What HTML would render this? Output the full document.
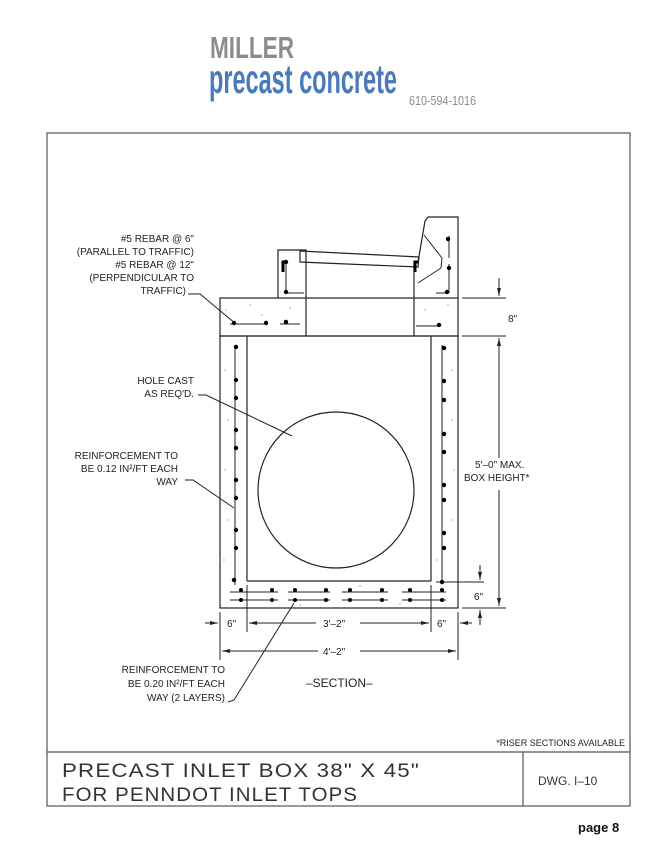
<!DOCTYPE html>
<html><head><meta charset="utf-8"><style>
html,body{margin:0;padding:0;background:#fff;}
svg{display:block;}
text{font-family:"Liberation Sans",sans-serif;}
</style></head><body>
<svg width="669" height="865" viewBox="0 0 669 865" xmlns="http://www.w3.org/2000/svg">
<!-- logo -->
<text x="210" y="58" font-size="31" font-weight="bold" fill="#8a8c8e" textLength="84" lengthAdjust="spacingAndGlyphs">MILLER</text>
<text x="209" y="93" font-size="41" font-weight="bold" fill="#4a79bd" textLength="188" lengthAdjust="spacingAndGlyphs">precast concrete</text>
<text x="409" y="105" font-size="13" fill="#8a8c8e" textLength="67" lengthAdjust="spacingAndGlyphs">610-594-1016</text>

<g stroke="#555" fill="none" stroke-width="1.2">
<rect x="47" y="133" width="583" height="673"/>
<line x1="47" y1="752" x2="630" y2="752"/>
<line x1="523" y1="752" x2="523" y2="806"/>
</g>

<g stroke="#222" fill="none" stroke-width="1.2">
<rect x="220" y="298" width="238" height="38"/>
<line x1="306" y1="298" x2="306" y2="336"/>
<line x1="414" y1="298" x2="414" y2="336"/>
<rect x="220" y="336" width="238" height="272"/>
<line x1="247" y1="336" x2="247" y2="581"/>
<line x1="431" y1="336" x2="431" y2="581"/>
<line x1="247" y1="581" x2="431" y2="581"/>
<polyline points="306,298 306,250 278,250 278,298"/>
<polygon points="300,251 419,257 418,267 300,262"/>
<polyline points="414,298 414,262 418,262 425,221 428,217 458,217 458,298"/>
<circle cx="336" cy="490" r="78"/>
</g>
<path d="M287 262h-4v10M418 262h-3v10" stroke="#000" stroke-width="3" fill="none"/>

<g stroke="#222" stroke-width="1">
<line x1="286" y1="264" x2="286" y2="293"/><line x1="286" y1="293" x2="304" y2="293"/>
<line x1="449" y1="236" x2="449" y2="258"/><line x1="449" y1="264" x2="449" y2="293"/><line x1="436" y1="293" x2="449" y2="293"/>
<line x1="230" y1="324" x2="268" y2="324"/><line x1="280" y1="324" x2="300" y2="324"/><line x1="416" y1="326" x2="440" y2="326"/>
<line x1="235" y1="345" x2="235" y2="585"/><line x1="442" y1="345" x2="442" y2="580"/>
<line x1="436" y1="582" x2="484" y2="582"/>
<line x1="424" y1="235" x2="442" y2="258"/><line x1="442" y1="258" x2="441" y2="268"/><line x1="441" y1="268" x2="418" y2="283"/>
<line x1="230" y1="592" x2="278" y2="592"/><line x1="230" y1="600" x2="278" y2="600"/>
<line x1="288" y1="592" x2="330" y2="592"/><line x1="288" y1="600" x2="330" y2="600"/>
<line x1="342" y1="592" x2="388" y2="592"/><line x1="342" y1="600" x2="388" y2="600"/>
<line x1="402" y1="592" x2="446" y2="592"/><line x1="402" y1="600" x2="446" y2="600"/>
</g>
<g fill="#000">
<circle cx="286" cy="262" r="2.2"/><circle cx="286" cy="292" r="2.2"/><circle cx="448" cy="239" r="2.2"/><circle cx="449" cy="268" r="2.2"/><circle cx="447" cy="292" r="2.2"/>
<circle cx="234" cy="323" r="2.2"/><circle cx="266" cy="323" r="2.2"/><circle cx="286" cy="322" r="2.2"/><circle cx="439" cy="325" r="2.2"/>
<circle cx="236" cy="347" r="2.2"/><circle cx="236" cy="380" r="2.2"/><circle cx="236" cy="398" r="2.2"/><circle cx="236" cy="430" r="2.2"/><circle cx="236" cy="448" r="2.2"/><circle cx="236" cy="480" r="2.2"/><circle cx="236" cy="498" r="2.2"/><circle cx="236" cy="530" r="2.2"/><circle cx="236" cy="548" r="2.2"/><circle cx="234" cy="580" r="2.2"/>
<circle cx="444" cy="348" r="2.2"/><circle cx="444" cy="381" r="2.2"/><circle cx="444" cy="400" r="2.2"/><circle cx="444" cy="434" r="2.2"/><circle cx="444" cy="452" r="2.2"/><circle cx="444" cy="485" r="2.2"/><circle cx="444" cy="500" r="2.2"/><circle cx="444" cy="533" r="2.2"/><circle cx="444" cy="548" r="2.2"/><circle cx="442" cy="582" r="2.2"/>
<circle cx="241" cy="590" r="2"/><circle cx="272" cy="590" r="2"/><circle cx="241" cy="600" r="2"/><circle cx="272" cy="600" r="2"/>
<circle cx="295" cy="590" r="2"/><circle cx="326" cy="590" r="2"/><circle cx="295" cy="600" r="2"/><circle cx="326" cy="600" r="2"/>
<circle cx="350" cy="590" r="2"/><circle cx="382" cy="590" r="2"/><circle cx="350" cy="600" r="2"/><circle cx="382" cy="600" r="2"/>
<circle cx="410" cy="590" r="2"/><circle cx="442" cy="590" r="2"/><circle cx="410" cy="600" r="2"/><circle cx="442" cy="600" r="2"/>
</g>
<g fill="#777">
<circle cx="226" cy="310" r=".6"/><circle cx="250" cy="305" r=".6"/><circle cx="262" cy="315" r=".6"/><circle cx="290" cy="308" r=".6"/><circle cx="425" cy="310" r=".6"/><circle cx="448" cy="305" r=".6"/>
<circle cx="225" cy="370" r=".6"/><circle cx="228" cy="420" r=".6"/><circle cx="225" cy="470" r=".6"/><circle cx="228" cy="520" r=".6"/><circle cx="224" cy="560" r=".6"/>
<circle cx="452" cy="370" r=".6"/><circle cx="452" cy="420" r=".6"/><circle cx="454" cy="470" r=".6"/><circle cx="452" cy="520" r=".6"/><circle cx="437" cy="560" r=".6"/>
<circle cx="300" cy="605" r=".6"/><circle cx="360" cy="586" r=".6"/><circle cx="400" cy="604" r=".6"/>
</g>

<g stroke="#222" stroke-width="1" fill="none">
<line x1="462" y1="298" x2="506" y2="298"/>
<line x1="462" y1="336" x2="506" y2="336"/>
<line x1="462" y1="608" x2="506" y2="608"/>
<line x1="499" y1="278" x2="499" y2="296"/>
<line x1="499" y1="338" x2="499" y2="458"/><line x1="499" y1="490" x2="499" y2="606"/>
<line x1="480" y1="565" x2="480" y2="580"/><line x1="480" y1="610" x2="480" y2="625"/>
<line x1="220" y1="612" x2="220" y2="660"/><line x1="247" y1="585" x2="247" y2="632"/><line x1="431" y1="585" x2="431" y2="632"/><line x1="458" y1="612" x2="458" y2="660"/>
<line x1="205" y1="623" x2="218" y2="623"/><line x1="249" y1="623" x2="316" y2="623"/><line x1="360" y1="623" x2="429" y2="623"/><line x1="460" y1="623" x2="472" y2="623"/>
<line x1="222" y1="651" x2="318" y2="651"/><line x1="360" y1="651" x2="456" y2="651"/>
<polyline points="188,294 200,294 236,324"/>
<polyline points="198,395 206,395 292,436"/>
<polyline points="185,480 193,480 234,508"/>
<polyline points="228,702 234,700 294,603"/>
</g>
<g fill="#222">
<path d="M499 296l-2-8h4z"/><path d="M499 338l-2 8h4z"/><path d="M499 606l-2-8h4z"/>
<path d="M480 580l-2-8h4z"/><path d="M480 610l-2 8h4z"/>
<path d="M218 623l-8-2v4z"/><path d="M249 623l8-2v4z"/><path d="M429 623l-8-2v4z"/><path d="M460 623l8-2v4z"/>
<path d="M222 651l8-2v4z"/><path d="M456 651l-8-2v4z"/>
</g>

<g font-size="10" fill="#222">
<text x="508" y="322">8"</text>
<text x="475" y="468">5'–0"  MAX.</text>
<text x="464" y="481">BOX  HEIGHT*</text>
<text x="474" y="600">6"</text>
<text x="227" y="627">6"</text>
<text x="323" y="627">3'–2"</text>
<text x="437" y="627">6"</text>
<text x="323" y="655">4'–2"</text>
<text x="306" y="687" font-size="12">–SECTION–</text>
<g text-anchor="end">
<text x="194" y="242">#5  REBAR   @  6"</text>
<text x="194" y="255">(PARALLEL  TO  TRAFFIC)</text>
<text x="194" y="268">#5  REBAR  @  12"</text>
<text x="194" y="281">(PERPENDICULAR  TO</text>
<text x="186" y="294">TRAFFIC)</text>
<text x="194" y="384">HOLE  CAST</text>
<text x="194" y="397">AS  REQ'D.</text>
<text x="178" y="459">REINFORCEMENT  TO</text>
<text x="178" y="472">BE  0.12  IN²/FT  EACH</text>
<text x="178" y="485">WAY</text>
<text x="225" y="673">REINFORCEMENT  TO</text>
<text x="225" y="687">BE  0.20  IN²/FT  EACH</text>
<text x="225" y="701">WAY  (2  LAYERS)</text>
<text x="625" y="746" font-size="9">*RISER  SECTIONS  AVAILABLE</text>
</g>
</g>
<g font-size="19" fill="#333" letter-spacing="1">
<text x="62" y="777" textLength="358" lengthAdjust="spacingAndGlyphs">PRECAST  INLET  BOX  38"  X  45"</text>
<text x="62" y="801" textLength="296" lengthAdjust="spacingAndGlyphs">FOR  PENNDOT  INLET  TOPS</text>
</g>
<text x="538" y="785" font-size="12" fill="#333">DWG.  I–10</text>
<text x="578" y="832" font-size="13" font-weight="bold" fill="#111">page 8</text>
</svg>
</body></html>
